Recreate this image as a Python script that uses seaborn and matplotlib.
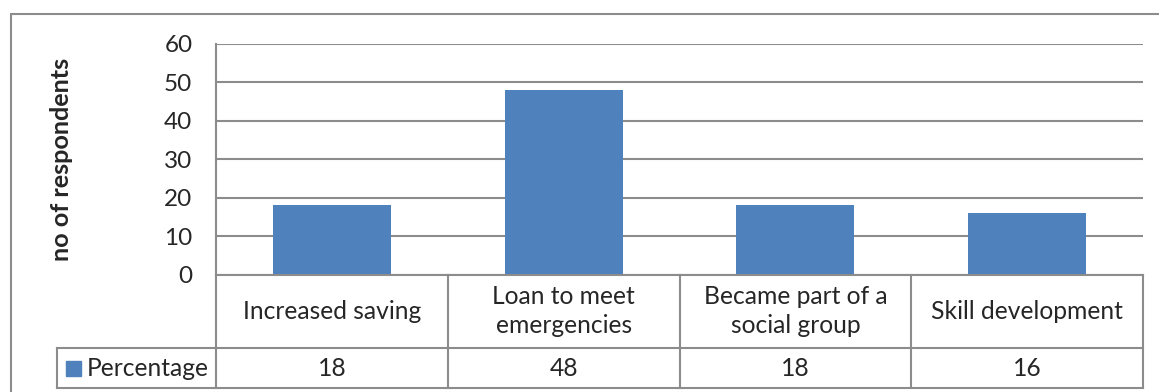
import matplotlib
matplotlib.use("Agg")
import matplotlib.pyplot as plt
import matplotlib.transforms as mtransforms
from matplotlib.lines import Line2D
from matplotlib.patches import Rectangle
import pandas as pd
import seaborn as sns

categories = ["Increased saving", "Loan to meet\nemergencies",
              "Became part of a\nsocial group", "Skill development"]
percentage = [18, 48, 18, 16]
series_name = "Percentage"
y_ticks = [0, 10, 20, 30, 40, 50, 60]
y_label = "no of respondents"

sns.set_theme(style="white")
plt.rcParams["font.family"] = ["Lato", "DejaVu Sans"]

BAR = "#4F81BD"
GRID = "#8C8C8C"
W, H = 1159, 392
FS = 17.7

fig = plt.figure(figsize=(W / 100, H / 100), dpi=100)
left, right, top, bottom = 216, 1143, 43.7, 274.7
ax = fig.add_axes([left / W, 1 - bottom / H, (right - left) / W, (bottom - top) / H])

df = pd.DataFrame({"category": categories, "value": percentage})
sns.barplot(data=df, x="category", y="value", color=BAR, saturation=1,
            width=0.51, ax=ax, edgecolor="none")

ax.set_xlim(-0.5, len(categories) - 0.5)
ax.set_ylim(0, 60)
ax.set_yticks(y_ticks)
ax.set_yticklabels([str(t) for t in y_ticks], fontsize=17.5)
ax.tick_params(axis="y", length=0, pad=17)
ax.set_xticks([])
ax.set_xlabel("")
ax.set_ylabel("")
ax.yaxis.grid(True, color=GRID, linewidth=1.5)
ax.set_axisbelow(True)
for side in ["top", "right", "bottom"]:
    ax.spines[side].set_visible(False)
ax.spines["left"].set_color(GRID)
ax.spines["left"].set_linewidth(1.5)

fig.text(62 / W, 1 - 159 / H, y_label, rotation=90, ha="center", va="center",
         fontsize=18.2, fontweight="bold")

# data table below the plot area
ph = bottom - top
pw = right - left
row1 = -(348 - bottom) / ph
row2 = -(388 - bottom) / ph
leg_left = (57 - left) / pw
blend = mtransforms.blended_transform_factory(ax.transData, ax.transAxes)
lkw = dict(color=GRID, linewidth=1.5, clip_on=False, solid_capstyle="projecting")

ax.plot([0, 1], [0, 0], transform=ax.transAxes, **lkw)
ax.plot([leg_left, 1], [row1, row1], transform=ax.transAxes, **lkw)
ax.plot([leg_left, 1], [row2, row2], transform=ax.transAxes, **lkw)
ax.plot([leg_left, leg_left], [row1, row2], transform=ax.transAxes, **lkw)
ax.plot([0, 0], [0, row2], transform=ax.transAxes, **lkw)
for b in range(1, len(categories) + 1):
    ax.plot([b - 0.5, b - 0.5], [0, row2], transform=blend, **lkw)

for i, (cat, val) in enumerate(zip(categories, percentage)):
    ax.text(i, row1 / 2, cat, transform=blend, ha="center", va="center",
            fontsize=FS, linespacing=1.32, clip_on=False)
    ax.text(i, (row1 + row2) / 2, str(val), transform=blend, ha="center",
            va="center", fontsize=FS, clip_on=False)

# legend key inside the table
sq = 15 / pw
sq_h = 15 / ph
ax.add_patch(Rectangle(((66 - left) / pw, (row1 + row2) / 2 - sq_h / 2), sq, sq_h,
                       transform=ax.transAxes, color=BAR, clip_on=False))
ax.text((87 - left) / pw, (row1 + row2) / 2, series_name, transform=ax.transAxes,
        ha="left", va="center", fontsize=FS, clip_on=False)

# outer chart frame
fkw = dict(color=GRID, linewidth=1.5)
fig.add_artist(Line2D([11 / W, 11 / W], [1 - 14 / H, 0], transform=fig.transFigure, **fkw))
fig.add_artist(Line2D([11 / W, 1], [1 - 14 / H, 1 - 14 / H], transform=fig.transFigure, **fkw))

fig.savefig("out.png", dpi=100, facecolor="white")
